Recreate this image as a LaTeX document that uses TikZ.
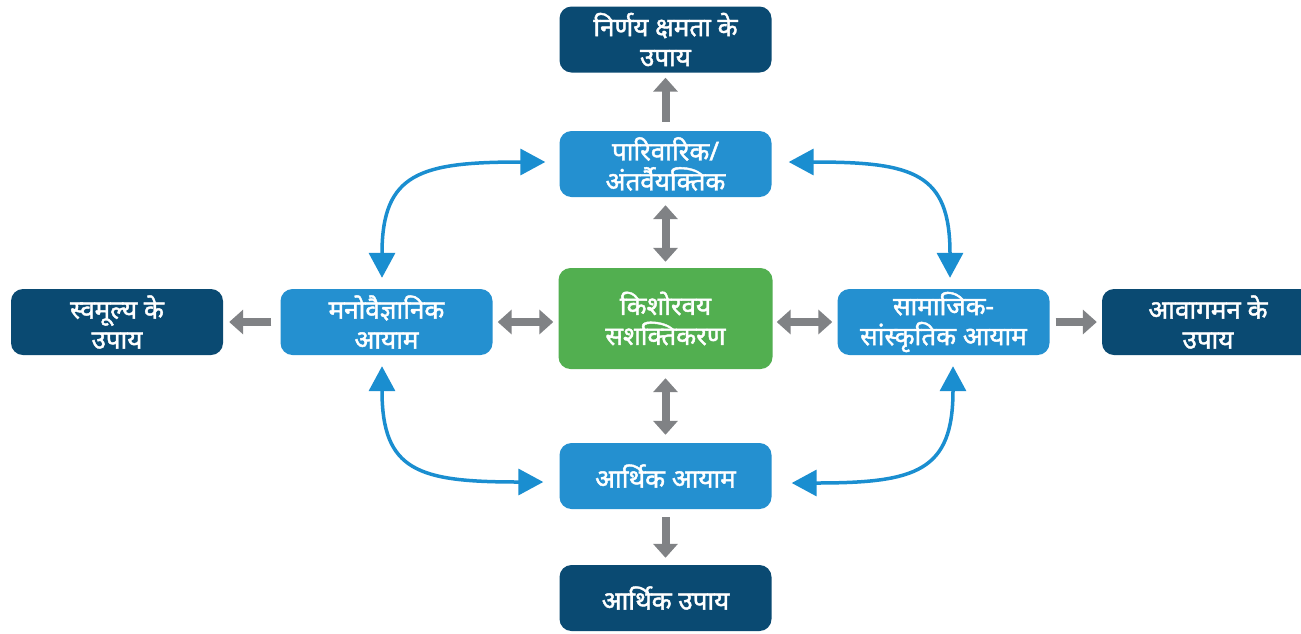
\documentclass[tikz,border=0pt]{standalone}
\usepackage{fontspec}
\setmainfont[Script=Devanagari, FakeBold=1.6]{Noto Sans}
\usetikzlibrary{arrows.meta}
\definecolor{navy}{HTML}{0A4A72}
\definecolor{lblue}{HTML}{2490D0}
\definecolor{grn}{HTML}{52AF50}
\definecolor{gry}{HTML}{808285}
\definecolor{cblue}{HTML}{1A8ED0}
\begin{document}
\begin{tikzpicture}[x=1pt,y=-1pt,
 box/.style={rounded corners=12pt, minimum width=212pt, minimum height=66pt, text=white, align=center, font=\fontsize{26}{30}\selectfont, inner sep=0pt},
 darkbox/.style={box, fill=navy},
 lightbox/.style={box, fill=lblue},
 greenbox/.style={box, fill=grn, minimum height=101pt, minimum width=214pt},
 garrow/.style={draw=gry, line width=8pt, -{Triangle[width=24pt,length=14pt]}},
 gdouble/.style={draw=gry, line width=8pt, {Triangle[width=24pt,length=14pt]}-{Triangle[width=24pt,length=14pt]}},
 carrow/.style={draw=cblue, line width=3.5pt, {Triangle[width=26pt,length=25pt]}-{Triangle[width=26pt,length=25pt]}}
]
\clip (0,0) rectangle (1301,633);
\fill[white] (0,0) rectangle (1301,633);

\node[darkbox] (top) at (665.5,39.5) {निर्णय क्षमता के\\उपाय};
\node[lightbox] (pari) at (665.5,164) {पारिवारिक/\\अंतर्वैयक्तिक};
\node[greenbox] (core) at (665.5,318.5) {किशोरवय\\सशक्तिकरण};
\node[lightbox] (mano) at (386.5,322) {मनोवैज्ञानिक\\आयाम};
\node[lightbox] (samaj) at (943.5,322) {सामाजिक-\\सांस्कृतिक आयाम};
\node[darkbox] (swa) at (117,322) {स्वमूल्य के\\उपाय};
\node[darkbox] (aava) at (1208,322) {आवागमन के\\उपाय};
\node[lightbox] (arth) at (665.5,476) {आर्थिक आयाम};
\node[darkbox] (upay) at (665.5,598) {आर्थिक उपाय};

% gray arrows
\draw[garrow, shorten <=9pt, shorten >=5pt] (pari.north) -- (top.south);
\draw[gdouble, shorten <=8pt, shorten >=6pt] (pari.south) -- (core.north);
\draw[gdouble, shorten <=9pt, shorten >=8pt] (core.south) -- (arth.north);
\draw[garrow, shorten <=8pt, shorten >=7pt] (arth.south) -- (upay.north);
\draw[gdouble, shorten <=5pt, shorten >=5pt] (mano.east) -- (mano.east -| core.west);
\draw[gdouble, shorten <=4pt, shorten >=5pt] (samaj.west -| core.east) -- (samaj.west);
\draw[garrow, shorten <=9pt, shorten >=6pt] (mano.west) -- (swa.east);
\draw[garrow, shorten <=6pt, shorten >=5pt] (samaj.east) -- (aava.west);

% blue curved arrows
\draw[carrow] ([shift={(-14,-2)}]pari.west) .. controls +(-125,0) and +(0,-105) .. ([shift={(-4.5,-11)}]mano.north);
\draw[carrow] ([shift={(17,-2)}]pari.east) .. controls +(125,0) and +(0,-105) .. ([shift={(6.5,-11)}]samaj.north);
\draw[carrow] ([shift={(-4.5,11)}]mano.south) .. controls +(0,105) and +(-125,0) .. ([shift={(-16,6)}]arth.west);
\draw[carrow] ([shift={(9.5,11)}]samaj.south) .. controls +(0,105) and +(125,0) .. ([shift={(20,7)}]arth.east);
\end{tikzpicture}
\end{document}
